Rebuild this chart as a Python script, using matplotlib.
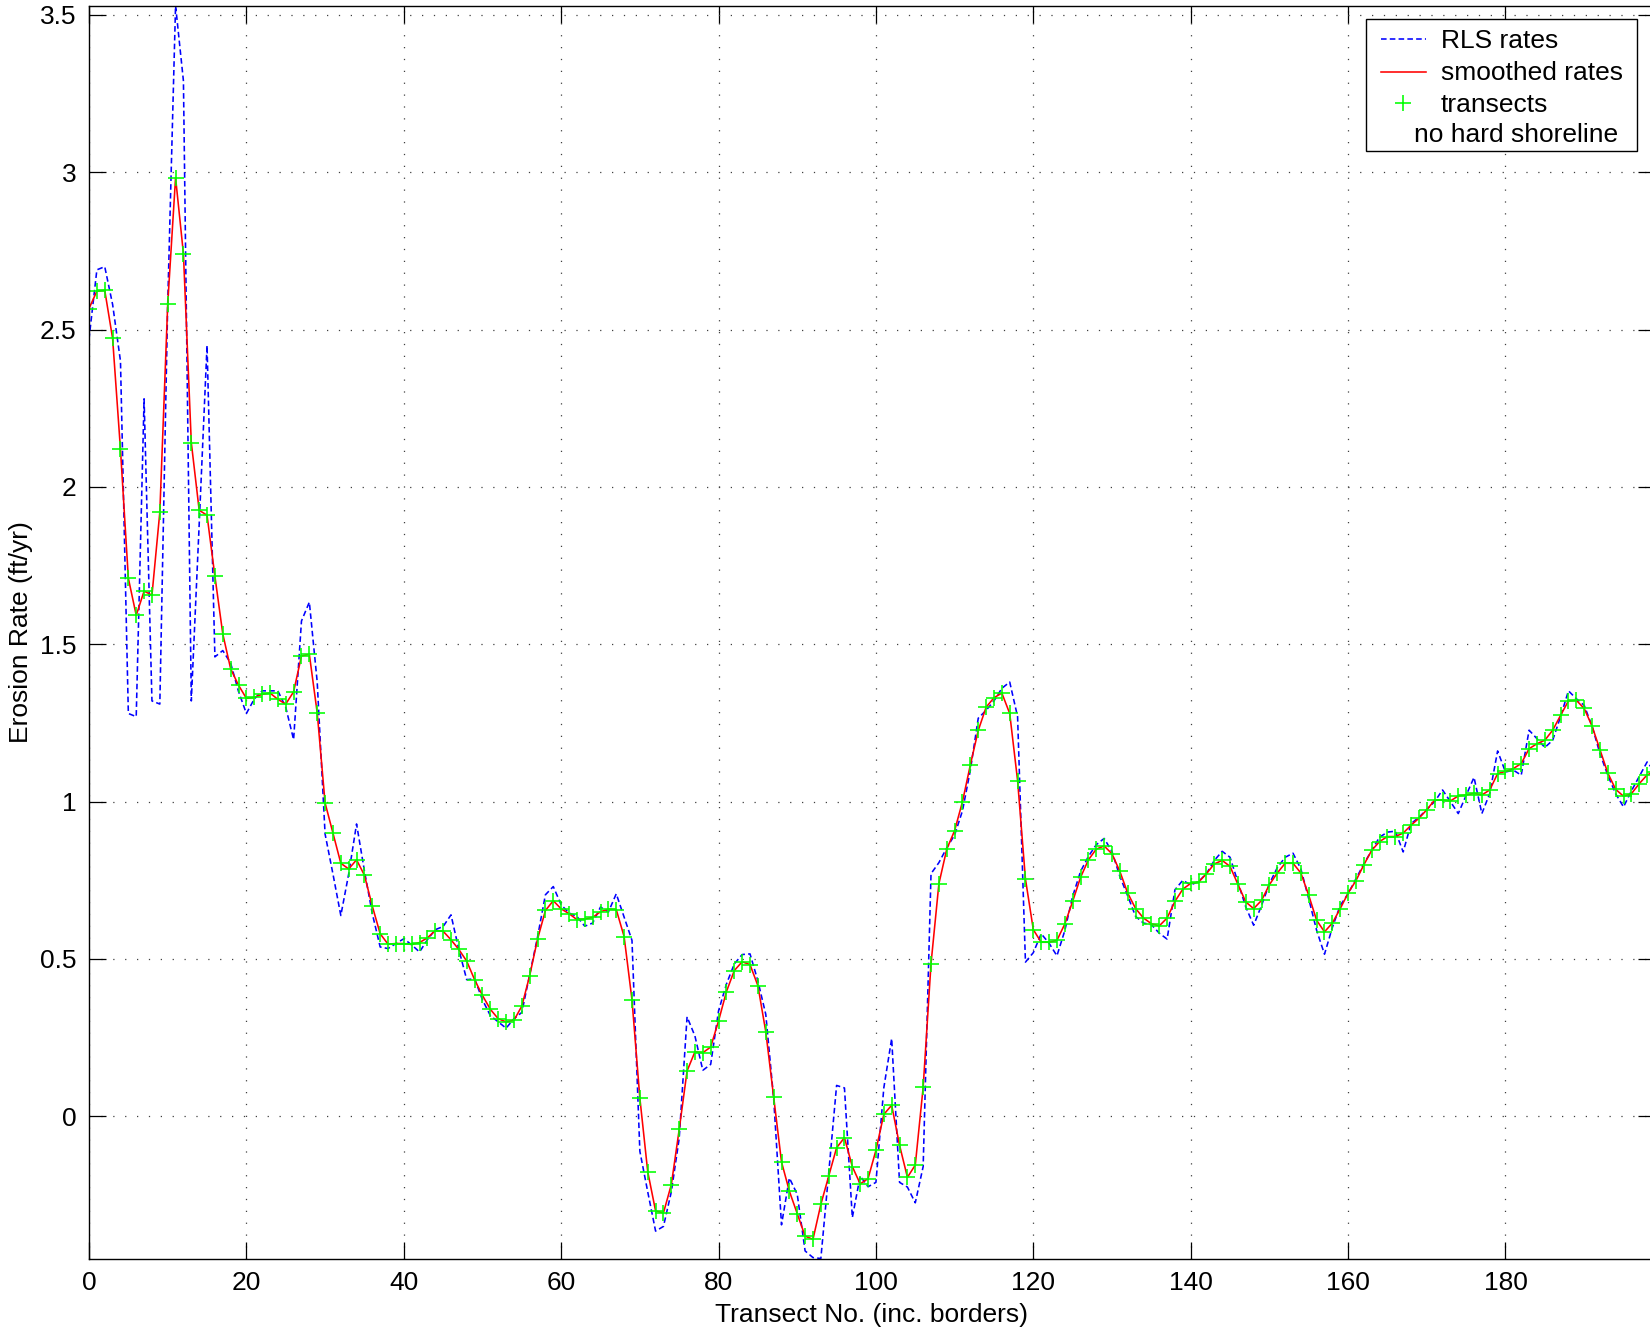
import numpy as np
import matplotlib
matplotlib.use("Agg")
import matplotlib.pyplot as plt
from matplotlib.lines import Line2D
from matplotlib.patches import Rectangle

plt.rcParams["font.family"] = ["Liberation Sans", "DejaVu Sans"]

# RLS erosion rates per transect (ft/yr), transects 0..199
rls_rates = [
    2.47, 2.69, 2.70, 2.58, 2.40, 1.28, 1.27, 2.28, 1.32, 1.31,
    2.58, 3.53, 3.29, 1.32, 1.88, 2.45, 1.46, 1.48, 1.44, 1.35,
    1.28, 1.326, 1.352, 1.352, 1.352, 1.30, 1.197, 1.574, 1.634, 1.38,
    0.897, 0.77, 0.638, 0.77, 0.929, 0.78, 0.644, 0.538, 0.533, 0.549,
    0.564, 0.545, 0.522, 0.561, 0.593, 0.603, 0.640, 0.530, 0.434, 0.437,
    0.370, 0.320, 0.300, 0.280, 0.310, 0.330, 0.450, 0.570, 0.704, 0.730,
    0.672, 0.646, 0.635, 0.604, 0.614, 0.665, 0.649, 0.707, 0.633, 0.559,
    -0.111, -0.240, -0.365, -0.350, -0.240, -0.070, 0.316, 0.255, 0.146, 0.165,
    0.335, 0.420, 0.484, 0.514, 0.516, 0.430, 0.324, 0.058, -0.345, -0.196,
    -0.248, -0.428, -0.449, -0.452, -0.180, 0.098, 0.090, -0.322, -0.190, -0.224,
    -0.210, 0.090, 0.247, -0.210, -0.225, -0.275, -0.160, 0.771, 0.806, 0.853,
    0.894, 0.971, 1.100, 1.265, 1.290, 1.320, 1.360, 1.380, 1.270, 0.490,
    0.520, 0.580, 0.550, 0.510, 0.590, 0.699, 0.778, 0.826, 0.863, 0.883,
    0.841, 0.762, 0.700, 0.635, 0.614, 0.609, 0.582, 0.563, 0.720, 0.750,
    0.735, 0.746, 0.771, 0.813, 0.842, 0.823, 0.744, 0.665, 0.607, 0.670,
    0.739, 0.790, 0.823, 0.836, 0.786, 0.691, 0.591, 0.515, 0.600, 0.670,
    0.707, 0.755, 0.802, 0.845, 0.887, 0.903, 0.906, 0.840, 0.930, 0.950,
    0.975, 1.000, 1.037, 1.000, 0.962, 1.020, 1.077, 0.962, 1.026, 1.161,
    1.094, 1.100, 1.084, 1.227, 1.200, 1.172, 1.195, 1.270, 1.352, 1.327,
    1.306, 1.240, 1.153, 1.084, 1.025, 0.983, 1.034, 1.080, 1.126, 1.094,
]

# smoothed rates (also where the transect markers sit)
smoothed_rates = [
    2.567, 2.622, 2.625, 2.472, 2.119, 1.710, 1.592, 1.669, 1.656, 1.920,
    2.580, 2.983, 2.741, 2.141, 1.926, 1.910, 1.716, 1.533, 1.422, 1.370,
    1.328, 1.331, 1.341, 1.345, 1.325, 1.310, 1.349, 1.463, 1.468, 1.282,
    0.996, 0.900, 0.804, 0.786, 0.815, 0.766, 0.668, 0.580, 0.547, 0.549,
    0.549, 0.546, 0.552, 0.567, 0.590, 0.588, 0.561, 0.530, 0.493, 0.434,
    0.384, 0.340, 0.310, 0.300, 0.305, 0.350, 0.447, 0.563, 0.654, 0.685,
    0.659, 0.644, 0.625, 0.627, 0.632, 0.650, 0.658, 0.657, 0.571, 0.370,
    0.058, -0.176, -0.301, -0.307, -0.217, -0.042, 0.144, 0.205, 0.202, 0.220,
    0.303, 0.396, 0.463, 0.491, 0.482, 0.415, 0.269, 0.061, -0.145, -0.238,
    -0.309, -0.381, -0.391, -0.280, -0.190, -0.100, -0.068, -0.160, -0.215, -0.198,
    -0.108, 0.006, 0.035, -0.092, -0.194, -0.155, 0.092, 0.485, 0.739, 0.849,
    0.908, 1.000, 1.117, 1.226, 1.300, 1.330, 1.345, 1.280, 1.067, 0.754,
    0.593, 0.553, 0.553, 0.559, 0.611, 0.683, 0.759, 0.815, 0.849, 0.859,
    0.834, 0.778, 0.709, 0.660, 0.630, 0.612, 0.605, 0.630, 0.683, 0.722,
    0.740, 0.744, 0.771, 0.802, 0.813, 0.794, 0.737, 0.681, 0.660, 0.686,
    0.736, 0.773, 0.804, 0.804, 0.773, 0.702, 0.623, 0.586, 0.614, 0.660,
    0.709, 0.749, 0.799, 0.845, 0.873, 0.889, 0.889, 0.900, 0.925, 0.947,
    0.974, 1.005, 1.005, 1.002, 1.018, 1.021, 1.026, 1.021, 1.037, 1.089,
    1.096, 1.105, 1.121, 1.168, 1.184, 1.195, 1.227, 1.274, 1.320, 1.322,
    1.296, 1.240, 1.165, 1.091, 1.039, 1.017, 1.025, 1.057, 1.085, 1.095,
]

x_ticks = [0, 20, 40, 60, 80, 100, 120, 140, 160, 180]
y_ticks = [0, 0.5, 1, 1.5, 2, 2.5, 3, 3.5]
y_tick_labels = ["0", "0.5", "1", "1.5", "2", "2.5", "3", "3.5"]
legend_labels = ["RLS rates", "smoothed rates", "transects", "no hard shoreline"]

W, H = 1650, 1332
FS = 19

transect = np.arange(len(rls_rates))

fig = plt.figure(figsize=(W / 100, H / 100), dpi=100)
# axes placed in pixels (left, top) -> (right, bottom); right edge slightly past the figure
left, top, right, bottom = 89, 5.5, 1655, 1258.5
ax = fig.add_axes([left / W, 1 - bottom / H, (right - left) / W, (bottom - top) / H])

ax.plot(transect, rls_rates, color="#0000ff", linestyle=(0, (3.5, 2.0)), lw=1.15)
ax.plot(transect, smoothed_rates, color="#ff0000", lw=1.15)
ax.plot(transect, smoothed_rates, linestyle="none", marker="+", color="#00ff00",
        markersize=11.5, markeredgewidth=1.15)

ax.set_xlim(0, transect[-1])
ax.set_ylim(min(rls_rates), max(rls_rates))
ax.set_xticks(x_ticks)
ax.set_yticks(y_ticks)
ax.set_yticklabels(y_tick_labels)
ax.tick_params(direction="in", top=True, right=True, length=12, width=0.9,
               labelsize=FS, pad=9)
for s in ax.spines.values():
    s.set_linewidth(1.0)
ax.grid(True, color="0.25", linestyle=(0, (1, 8.5)), lw=0.9)

ax.set_xlabel("Transect No. (inc. borders)", fontsize=FS, labelpad=6)
ax.set_ylabel("Erosion Rate (ft/yr)", fontsize=FS, labelpad=5)


def fpx(x, y):
    # pixel position (from top-left) -> figure fraction
    return x / W, 1 - y / H


# legend box drawn by hand to match the MATLAB layout
bx0, by0 = fpx(1366, 151)
bx1, by1 = fpx(1637, 19)
ax.add_artist(Rectangle((bx0, by0), bx1 - bx0, by1 - by0, transform=fig.transFigure,
                        facecolor="white", edgecolor="black", lw=1.0, zorder=10,
                        clip_on=False))
rows = [40.5, 73, 104.5, 135.5]
for y_row, lab in zip(rows[:3], legend_labels[:3]):
    tx, ty = fpx(1441, y_row)
    ax.text(tx, ty, lab, transform=fig.transFigure, fontsize=FS, va="center",
            ha="left", zorder=11)
xa, ya = fpx(1381, rows[0] - 1.5)
xb, _ = fpx(1426, rows[0])
ax.add_artist(Line2D([xa, xb], [ya, ya], transform=fig.transFigure, color="#0000ff",
                     linestyle=(0, (3.5, 2.0)), lw=1.15, zorder=11))
_, yb = fpx(0, rows[1] - 1.5)
ax.add_artist(Line2D([xa, xb], [yb, yb], transform=fig.transFigure, color="#ff0000",
                     lw=1.15, zorder=11))
mx, my = fpx(1403, rows[2] - 1.5)
ax.add_artist(Line2D([mx], [my], transform=fig.transFigure, linestyle="none",
                     marker="+", color="#00ff00", markersize=11.5, markeredgewidth=1.15,
                     zorder=11))
tx, ty = fpx(1414, rows[3])
ax.text(tx, ty, legend_labels[3], transform=fig.transFigure, fontsize=FS,
        va="center", ha="left", zorder=11)

fig.savefig("out.png", dpi=100)
